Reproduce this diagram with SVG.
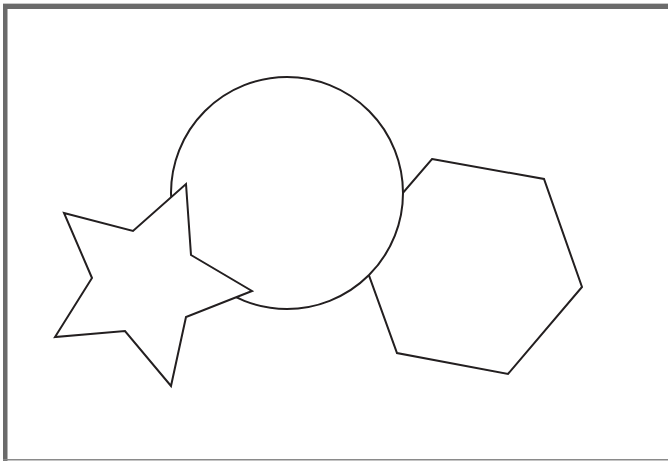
<svg xmlns="http://www.w3.org/2000/svg" width="668" height="461" viewBox="0 0 668 461">
<style>
.shape{fill:#fff;stroke:#231f20;stroke-width:2;stroke-linejoin:miter}
.frame{fill:#6b6b6b}
</style>
<rect width="668" height="461" fill="#fff"/>
<g id="frame">
<rect x="3" y="3" width="665" height="1" fill="#c9c9c9"/>
<rect class="frame" x="3" y="4" width="665" height="5"/>
<rect class="frame" x="3" y="4" width="4.5" height="457"/>
<rect x="3" y="459" width="665" height="1.5" fill="#8a8a8a"/>
</g>
<g id="hexagon">
<polygon class="shape" points="432,159 544,179 582,287 508,374 397,353 358,245"/>
</g>
<g id="circle">
<circle class="shape" cx="287" cy="193" r="116"/>
</g>
<g id="star">
<polygon class="shape" stroke-width="1.8" points="186,184 191,255 252,291 186,317 171,386 125,331 55,337 92,278 64,213 133,231"/>
</g>
<g id="connectors"></g>
</svg>
